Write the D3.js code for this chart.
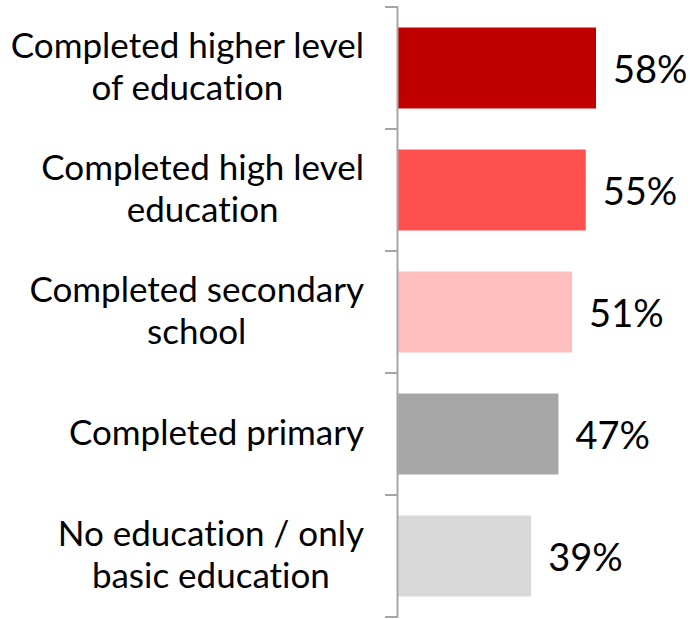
<!DOCTYPE html>
<html>
<head>
<meta charset="utf-8">
<script src="https://cdn.jsdelivr.net/npm/d3@7"></script>
<style>
    body { margin: 0; background: #fff; }
    text { font-family: Lato, "Open Sans", sans-serif; fill: #000; font-variant-ligatures: none; }
</style>
</head>
<body>
<div id="chart"></div>
<script>
// data
const categories = [
    ['Completed higher level', 'of education'],
    ['Completed high level', 'education'],
    ['Completed secondary', 'school'],
    ['Completed primary'],
    ['No education / only', 'basic education']
]
const values = [58, 55, 51, 47, 39]
const colors = ['#C00000', '#FF5050', '#FFBFBF', '#A6A6A6', '#D9D9D9']

let dms = {
    width: 690,
    height: 619,
    axisX: 398,
    top: 7,
    bottom: 617
}

const svg = d3.select('#chart').append('svg')
    .attr('width', dms.width)
    .attr('height', dms.height)

const yScale = d3.scaleBand()
    .domain(d3.range(values.length))
    .range([dms.top, dms.bottom])
    .paddingInner(0.336)
    .paddingOuter(0.168)

const xScale = d3.scaleLinear()
    .domain([0, 58])
    .range([dms.axisX, 596])

// bars
svg.append('g')
    .selectAll('rect')
    .data(values)
    .join('rect')
    .attr('x', xScale(0))
    .attr('y', (d, i) => yScale(i))
    .attr('width', d => xScale(d) - xScale(0))
    .attr('height', yScale.bandwidth())
    .attr('fill', (d, i) => colors[i])

// axis with ticks on band boundaries
const step = yScale.step()
const boundaries = d3.range(values.length + 1).map(i => dms.top + i * step)
const axis = svg.append('g')
axis.append('line')
    .attr('x1', dms.axisX - 0.5).attr('x2', dms.axisX - 0.5)
    .attr('y1', dms.top).attr('y2', dms.bottom)
    .attr('stroke', '#A6A6A6').attr('stroke-width', 2)
axis.selectAll('.tick')
    .data(boundaries)
    .join('line')
    .attr('class', 'tick')
    .attr('x1', dms.axisX - 13).attr('x2', dms.axisX)
    .attr('y1', d => d).attr('y2', d => d)
    .attr('stroke', '#A6A6A6').attr('stroke-width', 2)

// category labels: block right-aligned, lines centred
const labels = svg.append('g')
categories.forEach((lines, i) => {
    const cy = yScale(i) + yScale.bandwidth() / 2
    const g = labels.append('g')
    const texts = lines.map((line, j) => g.append('text')
        .attr('y', cy + 11 + (j - (lines.length - 1) / 2) * 42)
        .attr('font-size', 35)
        .attr('text-anchor', 'middle')
        .text(line))
    const maxW = d3.max(texts, t => t.node().getComputedTextLength())
    texts.forEach(t => t.attr('x', 364 - maxW / 2))
})

// value labels
svg.append('g')
    .selectAll('text')
    .data(values)
    .join('text')
    .attr('x', d => xScale(d) + 17)
    .attr('y', (d, i) => yScale(i) + yScale.bandwidth() / 2 + 15)
    .attr('font-size', 38)
    .text(d => d + '%')
</script>
</body>
</html>
